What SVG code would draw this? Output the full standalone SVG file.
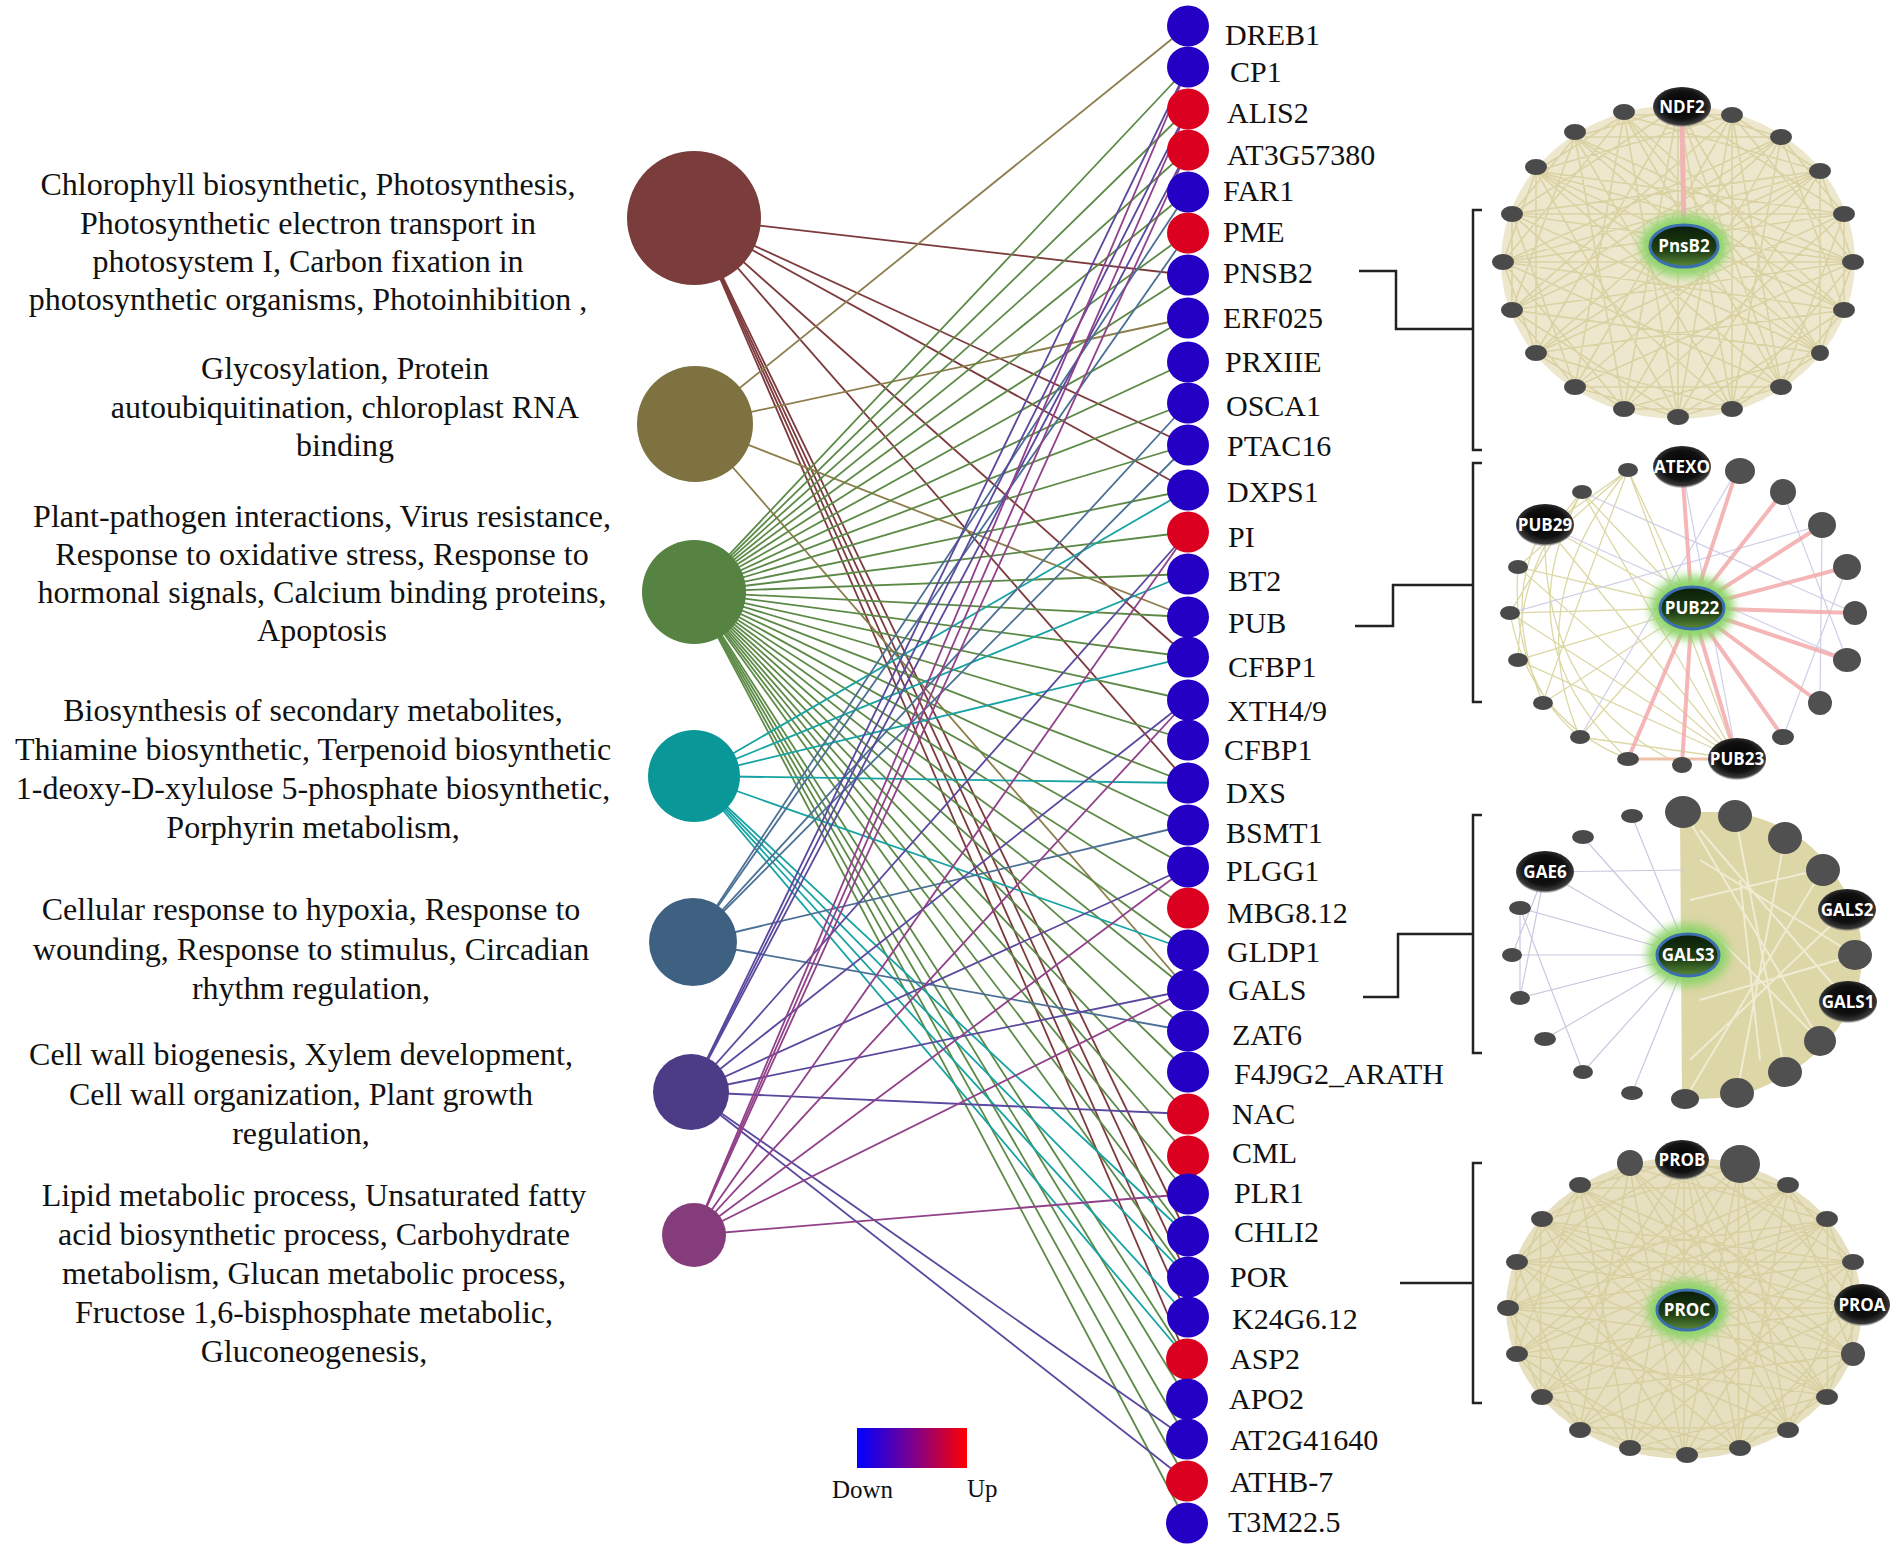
<svg xmlns="http://www.w3.org/2000/svg" xmlns:xlink="http://www.w3.org/1999/xlink" width="1902" height="1549" viewBox="0 0 1902 1549">
<defs>
<style>
.ct{font-family:"Liberation Serif","Times New Roman",serif;font-size:32px;fill:#111;text-anchor:middle}
.gl{font-family:"Liberation Serif","Times New Roman",serif;font-size:30px;fill:#111}
.lg{font-family:"Liberation Serif","Times New Roman",serif;font-size:25px;fill:#111}
.dn{fill:#2300c4}
.up{fill:#dc0020}
.e1{stroke:#7d3a3c;stroke-width:1.8}
.e2{stroke:#8c7e4c;stroke-width:1.8}
.e3{stroke:#5c8a46;stroke-width:1.8}
.e4{stroke:#17a3a3;stroke-width:1.8}
.e5{stroke:#4c7095;stroke-width:1.8}
.e6{stroke:#5a479e;stroke-width:1.8}
.e7{stroke:#91408a;stroke-width:1.8}
.br{fill:none;stroke:#222;stroke-width:2.5}
.nl{font-family:"Open Sans","DejaVu Sans",sans-serif;font-weight:700;font-size:17px;fill:#fff;text-anchor:middle}
.sn{fill:#4a4a4a}
.mn{fill:#505050}
.web{fill:none;stroke:#d6cc9a;stroke-width:1.6;stroke-opacity:0.8}
</style>
<linearGradient id="lgd" x1="0" y1="0" x2="1" y2="0">
<stop offset="0" stop-color="#0000ff"/>
<stop offset="0.5" stop-color="#7a0090"/>
<stop offset="1" stop-color="#ff0000"/>
</linearGradient>
<radialGradient id="dk" cx="0.5" cy="0.45" r="0.55">
<stop offset="0" stop-color="#000"/>
<stop offset="0.65" stop-color="#111"/>
<stop offset="0.9" stop-color="#3a3a3a"/>
<stop offset="1" stop-color="#888" stop-opacity="0.3"/>
</radialGradient>
<linearGradient id="cg" x1="0" y1="0" x2="0" y2="1">
<stop offset="0" stop-color="#0a1d07"/>
<stop offset="0.6" stop-color="#1f3f14"/>
<stop offset="1" stop-color="#5a8a3a"/>
</linearGradient>
<filter id="gl" x="-50%" y="-50%" width="200%" height="200%"><feGaussianBlur stdDeviation="5"/></filter>
<path id="web" d="M0 -155L166 -48M54 -147L175 0M103 -125L166 48M142 -91L142 91M166 -48L103 125M175 0L54 147M166 48L0 155M142 91L-54 147M103 125L-103 125M54 147L-142 91M0 155L-166 48M-54 147L-175 0M-103 125L-166 -48M-142 91L-142 -91M-166 48L-103 -125M-175 0L-54 -147M-166 -48L0 -155M-142 -91L54 -147M-103 -125L103 -125M-54 -147L142 -91M0 -155L142 91M54 -147L103 125M103 -125L54 147M142 -91L0 155M166 -48L-54 147M175 0L-103 125M166 48L-142 91M142 91L-166 48M103 125L-175 0M54 147L-166 -48M0 155L-142 -91M-54 147L-103 -125M-103 125L-54 -147M-142 91L0 -155M-166 48L54 -147M-175 0L103 -125M-166 -48L142 -91M-142 -91L166 -48M-103 -125L175 0M-54 -147L166 48M0 -155L54 147M54 -147L0 155M103 -125L-54 147M142 -91L-103 125M166 -48L-142 91M175 0L-166 48M166 48L-175 0M142 91L-166 -48M103 125L-142 -91M54 147L-103 -125M0 155L-54 -147M-54 147L0 -155M-103 125L54 -147M-142 91L103 -125M-166 48L142 -91M-175 0L166 -48M-166 -48L175 0M-142 -91L166 48M-103 -125L142 91M-54 -147L103 125M0 -155L103 -125M54 -147L142 -91M103 -125L166 -48M142 -91L175 0M166 -48L166 48M175 0L142 91M166 48L103 125M142 91L54 147M103 125L0 155M54 147L-54 147M0 155L-103 125M-54 147L-142 91M-103 125L-166 48M-142 91L-175 0M-166 48L-166 -48M-175 0L-142 -91M-166 -48L-103 -125M-142 -91L-54 -147M-103 -125L0 -155M-54 -147L54 -147M0 -155L-142 91M54 -147L-103 125M103 -125L-166 48M142 -91L-175 0M166 -48L-166 -48M175 0L-142 -91M166 48L-103 -125M142 91L-54 -147M103 125L0 -155M54 147L54 -147M0 -155L0 155M-175 0L175 0M-142 -91L142 91M-142 91L142 -91"/>
</defs>
<rect width="1902" height="1549" fill="#fff"/>

<g id="connectors">
<line class="e1" x1="694" y1="218" x2="1188" y2="275"/>
<line class="e1" x1="694" y1="218" x2="1188" y2="445"/>
<line class="e1" x1="694" y1="218" x2="1188" y2="490"/>
<line class="e1" x1="694" y1="218" x2="1188" y2="657"/>
<line class="e1" x1="694" y1="218" x2="1188" y2="783"/>
<line class="e1" x1="694" y1="218" x2="1188" y2="1236"/>
<line class="e1" x1="694" y1="218" x2="1188" y2="1277"/>
<line class="e1" x1="694" y1="218" x2="1188" y2="1317"/>
<line class="e1" x1="694" y1="218" x2="1187" y2="1359"/>
<line class="e2" x1="695" y1="424" x2="1188" y2="26"/>
<line class="e2" x1="695" y1="424" x2="1188" y2="318"/>
<line class="e2" x1="695" y1="424" x2="1188" y2="617"/>
<line class="e2" x1="695" y1="424" x2="1188" y2="990"/>
<line class="e3" x1="694" y1="592" x2="1188" y2="67"/>
<line class="e3" x1="694" y1="592" x2="1188" y2="109"/>
<line class="e3" x1="694" y1="592" x2="1188" y2="150"/>
<line class="e3" x1="694" y1="592" x2="1188" y2="192"/>
<line class="e3" x1="694" y1="592" x2="1188" y2="233"/>
<line class="e3" x1="694" y1="592" x2="1188" y2="275"/>
<line class="e3" x1="694" y1="592" x2="1188" y2="318"/>
<line class="e3" x1="694" y1="592" x2="1188" y2="362"/>
<line class="e3" x1="694" y1="592" x2="1188" y2="403"/>
<line class="e3" x1="694" y1="592" x2="1188" y2="445"/>
<line class="e3" x1="694" y1="592" x2="1188" y2="490"/>
<line class="e3" x1="694" y1="592" x2="1188" y2="532"/>
<line class="e3" x1="694" y1="592" x2="1188" y2="574"/>
<line class="e3" x1="694" y1="592" x2="1188" y2="617"/>
<line class="e3" x1="694" y1="592" x2="1188" y2="657"/>
<line class="e3" x1="694" y1="592" x2="1188" y2="700"/>
<line class="e3" x1="694" y1="592" x2="1188" y2="740"/>
<line class="e3" x1="694" y1="592" x2="1188" y2="783"/>
<line class="e3" x1="694" y1="592" x2="1188" y2="825"/>
<line class="e3" x1="694" y1="592" x2="1188" y2="867"/>
<line class="e3" x1="694" y1="592" x2="1188" y2="908"/>
<line class="e3" x1="694" y1="592" x2="1188" y2="950"/>
<line class="e3" x1="694" y1="592" x2="1188" y2="990"/>
<line class="e3" x1="694" y1="592" x2="1188" y2="1031"/>
<line class="e3" x1="694" y1="592" x2="1188" y2="1072"/>
<line class="e3" x1="694" y1="592" x2="1188" y2="1114"/>
<line class="e3" x1="694" y1="592" x2="1188" y2="1156"/>
<line class="e3" x1="694" y1="592" x2="1188" y2="1194"/>
<line class="e3" x1="694" y1="592" x2="1188" y2="1236"/>
<line class="e3" x1="694" y1="592" x2="1188" y2="1277"/>
<line class="e3" x1="694" y1="592" x2="1187" y2="1359"/>
<line class="e3" x1="694" y1="592" x2="1187" y2="1399"/>
<line class="e3" x1="694" y1="592" x2="1187" y2="1439"/>
<line class="e3" x1="694" y1="592" x2="1187" y2="1481"/>
<line class="e3" x1="694" y1="592" x2="1187" y2="1523"/>
<line class="e4" x1="694" y1="776" x2="1188" y2="490"/>
<line class="e4" x1="694" y1="776" x2="1188" y2="574"/>
<line class="e4" x1="694" y1="776" x2="1188" y2="657"/>
<line class="e4" x1="694" y1="776" x2="1188" y2="783"/>
<line class="e4" x1="694" y1="776" x2="1188" y2="950"/>
<line class="e4" x1="694" y1="776" x2="1188" y2="1236"/>
<line class="e4" x1="694" y1="776" x2="1188" y2="1277"/>
<line class="e4" x1="694" y1="776" x2="1188" y2="1317"/>
<line class="e4" x1="694" y1="776" x2="1187" y2="1359"/>
<line class="e5" x1="693" y1="942" x2="1188" y2="192"/>
<line class="e5" x1="693" y1="942" x2="1188" y2="233"/>
<line class="e5" x1="693" y1="942" x2="1188" y2="403"/>
<line class="e5" x1="693" y1="942" x2="1188" y2="445"/>
<line class="e5" x1="693" y1="942" x2="1188" y2="825"/>
<line class="e5" x1="693" y1="942" x2="1188" y2="1031"/>
<line class="e6" x1="691" y1="1092" x2="1188" y2="67"/>
<line class="e6" x1="691" y1="1092" x2="1188" y2="109"/>
<line class="e6" x1="691" y1="1092" x2="1188" y2="150"/>
<line class="e6" x1="691" y1="1092" x2="1188" y2="532"/>
<line class="e6" x1="691" y1="1092" x2="1188" y2="700"/>
<line class="e6" x1="691" y1="1092" x2="1188" y2="867"/>
<line class="e6" x1="691" y1="1092" x2="1188" y2="990"/>
<line class="e6" x1="691" y1="1092" x2="1188" y2="1114"/>
<line class="e6" x1="691" y1="1092" x2="1187" y2="1439"/>
<line class="e6" x1="691" y1="1092" x2="1187" y2="1481"/>
<line class="e7" x1="694" y1="1235" x2="1188" y2="67"/>
<line class="e7" x1="694" y1="1235" x2="1188" y2="109"/>
<line class="e7" x1="694" y1="1235" x2="1188" y2="150"/>
<line class="e7" x1="694" y1="1235" x2="1188" y2="532"/>
<line class="e7" x1="694" y1="1235" x2="1188" y2="700"/>
<line class="e7" x1="694" y1="1235" x2="1188" y2="867"/>
<line class="e7" x1="694" y1="1235" x2="1188" y2="990"/>
<line class="e7" x1="694" y1="1235" x2="1188" y2="1194"/>
</g>

<g id="categories">
<g id="cat1"><circle cx="694" cy="218" r="67" fill="#7b3c3c"/>
<text class="ct"><tspan x="308" y="195">Chlorophyll biosynthetic, Photosynthesis,</tspan><tspan x="308" y="234">Photosynthetic electron transport in</tspan><tspan x="308" y="272">photosystem I, Carbon fixation in</tspan><tspan x="308" y="310">photosynthetic organisms, Photoinhibition ,</tspan></text></g>
<g id="cat2"><circle cx="695" cy="424" r="58" fill="#7e7240"/>
<text class="ct"><tspan x="345" y="379">Glycosylation, Protein</tspan><tspan x="345" y="418">autoubiquitination, chloroplast RNA</tspan><tspan x="345" y="456">binding</tspan></text></g>
<g id="cat3"><circle cx="694" cy="592" r="52" fill="#568342"/>
<text class="ct"><tspan x="322" y="527">Plant-pathogen interactions, Virus resistance,</tspan><tspan x="322" y="565">Response to oxidative stress, Response to</tspan><tspan x="322" y="603">hormonal signals, Calcium binding proteins,</tspan><tspan x="322" y="641">Apoptosis</tspan></text></g>
<g id="cat4"><circle cx="694" cy="776" r="46" fill="#0a9797"/>
<text class="ct"><tspan x="313" y="721">Biosynthesis of secondary metabolites,</tspan><tspan x="313" y="760">Thiamine biosynthetic, Terpenoid biosynthetic</tspan><tspan x="313" y="799">1-deoxy-D-xylulose 5-phosphate biosynthetic,</tspan><tspan x="313" y="838">Porphyrin metabolism,</tspan></text></g>
<g id="cat5"><circle cx="693" cy="942" r="44" fill="#3e6182"/>
<text class="ct"><tspan x="311" y="920">Cellular response to hypoxia, Response to</tspan><tspan x="311" y="960">wounding, Response to stimulus, Circadian</tspan><tspan x="311" y="999">rhythm regulation,</tspan></text></g>
<g id="cat6"><circle cx="691" cy="1092" r="38" fill="#4c3c86"/>
<text class="ct"><tspan x="301" y="1065">Cell wall biogenesis, Xylem development,</tspan><tspan x="301" y="1105">Cell wall organization, Plant growth</tspan><tspan x="301" y="1144">regulation,</tspan></text></g>
<g id="cat7"><circle cx="694" cy="1235" r="32" fill="#853c7b"/>
<text class="ct"><tspan x="314" y="1206">Lipid metabolic process, Unsaturated fatty</tspan><tspan x="314" y="1245">acid biosynthetic process, Carbohydrate</tspan><tspan x="314" y="1284">metabolism, Glucan metabolic process,</tspan><tspan x="314" y="1323">Fructose 1,6-bisphosphate metabolic,</tspan><tspan x="314" y="1362">Gluconeogenesis,</tspan></text></g>
</g>

<g id="genes">
<g id="g0"><ellipse class="dn" cx="1188" cy="26" rx="21" ry="20.5"/><text class="gl" x="1225" y="45">DREB1</text></g>
<g id="g1"><ellipse class="dn" cx="1188" cy="67" rx="21" ry="20.5"/><text class="gl" x="1230" y="82">CP1</text></g>
<g id="g2"><ellipse class="up" cx="1188" cy="109" rx="21" ry="20.5"/><text class="gl" x="1227" y="123">ALIS2</text></g>
<g id="g3"><ellipse class="up" cx="1188" cy="150" rx="21" ry="20.5"/><text class="gl" x="1227" y="165">AT3G57380</text></g>
<g id="g4"><ellipse class="dn" cx="1188" cy="192" rx="21" ry="20.5"/><text class="gl" x="1223" y="201">FAR1</text></g>
<g id="g5"><ellipse class="up" cx="1188" cy="233" rx="21" ry="20.5"/><text class="gl" x="1223" y="242">PME</text></g>
<g id="g6"><ellipse class="dn" cx="1188" cy="275" rx="21" ry="20.5"/><text class="gl" x="1223" y="283">PNSB2</text></g>
<g id="g7"><ellipse class="dn" cx="1188" cy="318" rx="21" ry="20.5"/><text class="gl" x="1223" y="328">ERF025</text></g>
<g id="g8"><ellipse class="dn" cx="1188" cy="362" rx="21" ry="20.5"/><text class="gl" x="1225" y="372">PRXIIE</text></g>
<g id="g9"><ellipse class="dn" cx="1188" cy="403" rx="21" ry="20.5"/><text class="gl" x="1226" y="416">OSCA1</text></g>
<g id="g10"><ellipse class="dn" cx="1188" cy="445" rx="21" ry="20.5"/><text class="gl" x="1227" y="456">PTAC16</text></g>
<g id="g11"><ellipse class="dn" cx="1188" cy="490" rx="21" ry="20.5"/><text class="gl" x="1227" y="502">DXPS1</text></g>
<g id="g12"><ellipse class="up" cx="1188" cy="532" rx="21" ry="20.5"/><text class="gl" x="1228" y="547">PI</text></g>
<g id="g13"><ellipse class="dn" cx="1188" cy="574" rx="21" ry="20.5"/><text class="gl" x="1228" y="591">BT2</text></g>
<g id="g14"><ellipse class="dn" cx="1188" cy="617" rx="21" ry="20.5"/><text class="gl" x="1228" y="633">PUB</text></g>
<g id="g15"><ellipse class="dn" cx="1188" cy="657" rx="21" ry="20.5"/><text class="gl" x="1228" y="677">CFBP1</text></g>
<g id="g16"><ellipse class="dn" cx="1188" cy="700" rx="21" ry="20.5"/><text class="gl" x="1227" y="721">XTH4/9</text></g>
<g id="g17"><ellipse class="dn" cx="1188" cy="740" rx="21" ry="20.5"/><text class="gl" x="1224" y="760">CFBP1</text></g>
<g id="g18"><ellipse class="dn" cx="1188" cy="783" rx="21" ry="20.5"/><text class="gl" x="1226" y="803">DXS</text></g>
<g id="g19"><ellipse class="dn" cx="1188" cy="825" rx="21" ry="20.5"/><text class="gl" x="1226" y="843">BSMT1</text></g>
<g id="g20"><ellipse class="dn" cx="1188" cy="867" rx="21" ry="20.5"/><text class="gl" x="1226" y="881">PLGG1</text></g>
<g id="g21"><ellipse class="up" cx="1188" cy="908" rx="21" ry="20.5"/><text class="gl" x="1227" y="923">MBG8.12</text></g>
<g id="g22"><ellipse class="dn" cx="1188" cy="950" rx="21" ry="20.5"/><text class="gl" x="1227" y="962">GLDP1</text></g>
<g id="g23"><ellipse class="dn" cx="1188" cy="990" rx="21" ry="20.5"/><text class="gl" x="1228" y="1000">GALS</text></g>
<g id="g24"><ellipse class="dn" cx="1188" cy="1031" rx="21" ry="20.5"/><text class="gl" x="1232" y="1045">ZAT6</text></g>
<g id="g25"><ellipse class="dn" cx="1188" cy="1072" rx="21" ry="20.5"/><text class="gl" x="1234" y="1084">F4J9G2_ARATH</text></g>
<g id="g26"><ellipse class="up" cx="1188" cy="1114" rx="21" ry="20.5"/><text class="gl" x="1232" y="1124">NAC</text></g>
<g id="g27"><ellipse class="up" cx="1188" cy="1156" rx="21" ry="20.5"/><text class="gl" x="1232" y="1163">CML</text></g>
<g id="g28"><ellipse class="dn" cx="1188" cy="1194" rx="21" ry="20.5"/><text class="gl" x="1234" y="1203">PLR1</text></g>
<g id="g29"><ellipse class="dn" cx="1188" cy="1236" rx="21" ry="20.5"/><text class="gl" x="1234" y="1242">CHLI2</text></g>
<g id="g30"><ellipse class="dn" cx="1188" cy="1277" rx="21" ry="20.5"/><text class="gl" x="1230" y="1287">POR</text></g>
<g id="g31"><ellipse class="dn" cx="1188" cy="1317" rx="21" ry="20.5"/><text class="gl" x="1232" y="1329">K24G6.12</text></g>
<g id="g32"><ellipse class="up" cx="1187" cy="1359" rx="21" ry="20.5"/><text class="gl" x="1230" y="1369">ASP2</text></g>
<g id="g33"><ellipse class="dn" cx="1187" cy="1399" rx="21" ry="20.5"/><text class="gl" x="1229" y="1409">APO2</text></g>
<g id="g34"><ellipse class="dn" cx="1187" cy="1439" rx="21" ry="20.5"/><text class="gl" x="1230" y="1450">AT2G41640</text></g>
<g id="g35"><ellipse class="up" cx="1187" cy="1481" rx="21" ry="20.5"/><text class="gl" x="1230" y="1492">ATHB-7</text></g>
<g id="g36"><ellipse class="dn" cx="1187" cy="1523" rx="21" ry="20.5"/><text class="gl" x="1228" y="1532">T3M22.5</text></g>
</g>

<g id="legend">
<rect x="857" y="1428" width="110" height="40" fill="url(#lgd)"/>
<text class="lg" x="832" y="1498">Down</text>
<text class="lg" x="967" y="1497">Up</text>
</g>

<g id="brackets">
<path class="br" d="M1482 210H1473V450H1482M1359 271H1396V329H1473"/>
<path class="br" d="M1482 463H1473V702H1482M1355 626H1393V585H1473"/>
<path class="br" d="M1482 815H1473V1053H1482M1363 997H1398V934H1473"/>
<path class="br" d="M1482 1163H1473V1403H1482M1400 1283H1473"/>
</g>

<g id="net1">
<ellipse cx="1678" cy="262" rx="177" ry="157" fill="#ede8cd"/>
<use href="#web" class="web" transform="translate(1678 262)"/>
<line x1="1682" y1="125" x2="1684" y2="228" stroke="#f0b4b4" stroke-width="5"/>
<g class="sn">
<ellipse cx="1732" cy="115" rx="11" ry="8"/><ellipse cx="1781" cy="137" rx="11" ry="8"/><ellipse cx="1820" cy="171" rx="11" ry="8"/><ellipse cx="1844" cy="214" rx="11" ry="8"/><ellipse cx="1853" cy="262" rx="11" ry="8"/><ellipse cx="1844" cy="310" rx="11" ry="8"/><ellipse cx="1820" cy="353" rx="9" ry="8"/><ellipse cx="1781" cy="387" rx="11" ry="8"/><ellipse cx="1732" cy="409" rx="11" ry="8"/><ellipse cx="1678" cy="417" rx="11" ry="8"/><ellipse cx="1624" cy="409" rx="11" ry="8"/><ellipse cx="1575" cy="387" rx="11" ry="8"/><ellipse cx="1536" cy="353" rx="11" ry="8"/><ellipse cx="1512" cy="310" rx="11" ry="8"/><ellipse cx="1503" cy="262" rx="11" ry="8"/><ellipse cx="1512" cy="214" rx="11" ry="8"/><ellipse cx="1536" cy="167" rx="11" ry="8"/><ellipse cx="1575" cy="132" rx="11" ry="8"/><ellipse cx="1624" cy="112" rx="11" ry="8"/>
</g>
<g id="ndf2"><ellipse cx="1682" cy="107" rx="29" ry="20" fill="url(#dk)"/><text class="nl" x="1682" y="113">NDF2</text></g>
<g id="pnsb2"><ellipse cx="1684" cy="246" rx="44" ry="31" fill="#8ed46a" filter="url(#gl)"/><ellipse cx="1684" cy="246" rx="34" ry="21" fill="url(#cg)" stroke="#3b6fae" stroke-width="3"/><text class="nl" x="1684" y="252" font-size="18">PnsB2</text></g>
</g>

<g id="net2">
<g fill="none" stroke="#dcd8a6" stroke-width="1.3">
<path d="M1628 470Q1560 520 1545 525M1582 492Q1520 560 1518 660M1545 525Q1500 600 1543 703M1518 567Q1510 680 1580 737M1510 613Q1530 720 1628 759M1628 470Q1520 600 1580 737M1582 492Q1500 640 1628 759M1545 525Q1540 700 1682 765M1628 470Q1560 650 1543 703M1582 492L1510 613M1628 470L1518 567"/>
<path d="M1628 470L1692 608M1582 492L1692 608M1545 525L1692 608M1518 567L1692 608M1510 613L1692 608M1518 660L1692 608M1543 703L1692 608M1580 737L1692 608M1628 470L1737 759M1582 492L1737 759M1545 525L1737 759M1518 567L1737 759M1510 613L1737 759M1518 660L1737 759M1580 737L1737 759"/>
</g>
<g fill="none" stroke="#cfcfe8" stroke-width="1.2">
<path d="M1682 467L1737 759M1847 567L1783 737M1822 525L1820 703M1783 492L1847 660M1582 492L1855 613M1510 613L1822 525M1545 525L1847 660M1737 470L1580 737"/>
</g>
<g fill="none" stroke="#f2a9a9" stroke-width="4" stroke-opacity="0.85">
<path d="M1692 608L1682 467M1692 608L1737 470M1692 608L1783 492M1692 608L1822 525M1692 608L1847 567M1692 608L1855 613M1692 608L1847 660M1692 608L1820 703M1692 608L1783 737M1692 608L1737 759M1692 608L1682 765M1692 608L1628 759"/>
</g>
<path d="M1628 759L1737 759" stroke="#eec2a8" stroke-width="3"/>
<g class="sn">
<ellipse cx="1628" cy="470" rx="10" ry="7"/><ellipse cx="1582" cy="492" rx="10" ry="7"/><ellipse cx="1518" cy="567" rx="10" ry="7"/><ellipse cx="1510" cy="613" rx="10" ry="7"/><ellipse cx="1518" cy="660" rx="10" ry="7"/><ellipse cx="1543" cy="703" rx="10" ry="7"/><ellipse cx="1580" cy="737" rx="10" ry="7"/><ellipse cx="1628" cy="759" rx="11" ry="7"/><ellipse cx="1682" cy="765" rx="10" ry="8"/><ellipse cx="1783" cy="737" rx="11" ry="8"/>
</g>
<g class="mn">
<ellipse cx="1740" cy="471" rx="15" ry="13"/><ellipse cx="1783" cy="492" rx="13" ry="13"/><ellipse cx="1822" cy="525" rx="14" ry="13"/><ellipse cx="1847" cy="567" rx="14" ry="13"/><ellipse cx="1855" cy="613" rx="12" ry="12"/><ellipse cx="1847" cy="660" rx="14" ry="12"/><ellipse cx="1820" cy="703" rx="12" ry="12"/>
</g>
<g id="atexo"><ellipse cx="1682" cy="467" rx="29" ry="21" fill="url(#dk)"/><text class="nl" x="1682" y="473">ATEXO</text></g>
<g id="pub29"><ellipse cx="1545" cy="525" rx="29" ry="21" fill="url(#dk)"/><text class="nl" x="1545" y="531">PUB29</text></g>
<g id="pub23"><ellipse cx="1737" cy="759" rx="29" ry="21" fill="url(#dk)"/><text class="nl" x="1737" y="765">PUB23</text></g>
<g id="pub22"><ellipse cx="1692" cy="608" rx="42" ry="32" fill="#8ed46a" filter="url(#gl)"/><ellipse cx="1692" cy="608" rx="32" ry="21" fill="url(#cg)" stroke="#3b6fae" stroke-width="3"/><text class="nl" x="1692" y="614">PUB22</text></g>
</g>

<g id="net3">
<path d="M1680 812L1735 812Q1800 825 1830 868Q1862 910 1862 955Q1862 1002 1828 1041Q1795 1078 1737 1097L1682 1100Z" fill="#ddd6a6"/>
<g fill="none" stroke="#f4f1de" stroke-width="2" stroke-opacity="0.8">
<path d="M1683 810L1820 1041M1735 815L1785 1072M1785 837L1737 1093M1823 869L1685 1099M1847 910L1690 1060M1855 955L1700 860M1848 1002L1700 830M1820 1041L1683 810M1785 1072L1735 815M1737 1093L1785 837M1690 900L1823 869M1700 1000L1855 955M1710 930L1820 1041M1740 880L1760 1060"/>
</g>
<g fill="none" stroke="#cec6df" stroke-width="1.2">
<path d="M1688 955L1632 816M1688 955L1583 837M1688 955L1545 872M1688 955L1520 908M1688 955L1512 955M1688 955L1520 998M1688 955L1545 1039M1688 955L1583 1072M1688 955L1632 1093M1545 872L1683 870M1520 908L1520 998M1520 908L1583 1072M1512 955L1545 872M1520 998L1545 872"/>
</g>
<g class="sn">
<ellipse cx="1632" cy="816" rx="11" ry="7"/><ellipse cx="1583" cy="837" rx="11" ry="7"/><ellipse cx="1520" cy="908" rx="11" ry="7"/><ellipse cx="1512" cy="955" rx="10" ry="7"/><ellipse cx="1520" cy="998" rx="10" ry="7"/><ellipse cx="1545" cy="1039" rx="11" ry="7"/><ellipse cx="1583" cy="1072" rx="10" ry="7"/><ellipse cx="1632" cy="1093" rx="11" ry="7"/><ellipse cx="1685" cy="1099" rx="14" ry="10"/>
</g>
<g class="mn">
<ellipse cx="1683" cy="812" rx="18" ry="16"/><ellipse cx="1735" cy="816" rx="17" ry="16"/><ellipse cx="1785" cy="838" rx="17" ry="16"/><ellipse cx="1823" cy="870" rx="17" ry="16"/><ellipse cx="1855" cy="955" rx="17" ry="15"/><ellipse cx="1820" cy="1041" rx="16" ry="15"/><ellipse cx="1785" cy="1072" rx="17" ry="15"/><ellipse cx="1737" cy="1093" rx="17" ry="15"/>
</g>
<g id="gae6"><ellipse cx="1545" cy="872" rx="29" ry="21" fill="url(#dk)"/><text class="nl" x="1545" y="878">GAE6</text></g>
<g id="gals2"><ellipse cx="1847" cy="910" rx="29" ry="21" fill="url(#dk)"/><text class="nl" x="1847" y="916">GALS2</text></g>
<g id="gals1"><ellipse cx="1848" cy="1002" rx="29" ry="21" fill="url(#dk)"/><text class="nl" x="1848" y="1008">GALS1</text></g>
<g id="gals3"><ellipse cx="1688" cy="955" rx="41" ry="31" fill="#8ed46a" filter="url(#gl)"/><ellipse cx="1688" cy="955" rx="31" ry="21" fill="url(#cg)" stroke="#3b6fae" stroke-width="3"/><text class="nl" x="1688" y="961" font-size="18">GALS3</text></g>
</g>

<g id="net4">
<ellipse cx="1684" cy="1308" rx="178" ry="151" fill="#e6e0c0"/>
<use href="#web" class="web" transform="translate(1684 1308) scale(1.01 0.96)"/>
<g class="sn">
<ellipse cx="1788" cy="1185" rx="11" ry="8"/><ellipse cx="1827" cy="1219" rx="11" ry="8"/><ellipse cx="1853" cy="1262" rx="11" ry="8"/><ellipse cx="1827" cy="1397" rx="11" ry="8"/><ellipse cx="1788" cy="1430" rx="11" ry="8"/><ellipse cx="1740" cy="1448" rx="11" ry="8"/><ellipse cx="1687" cy="1455" rx="11" ry="8"/><ellipse cx="1630" cy="1448" rx="11" ry="8"/><ellipse cx="1580" cy="1430" rx="11" ry="8"/><ellipse cx="1542" cy="1397" rx="11" ry="8"/><ellipse cx="1517" cy="1354" rx="11" ry="8"/><ellipse cx="1508" cy="1308" rx="11" ry="8"/><ellipse cx="1517" cy="1262" rx="11" ry="8"/><ellipse cx="1542" cy="1219" rx="11" ry="8"/><ellipse cx="1580" cy="1185" rx="11" ry="8"/>
</g>
<g class="mn">
<ellipse cx="1630" cy="1163" rx="13" ry="13"/><ellipse cx="1740" cy="1164" rx="20" ry="19"/><ellipse cx="1853" cy="1354" rx="12" ry="12"/>
</g>
<g id="prob"><ellipse cx="1682" cy="1160" rx="27" ry="20" fill="url(#dk)"/><text class="nl" x="1682" y="1166">PROB</text></g>
<g id="proa"><ellipse cx="1862" cy="1305" rx="28" ry="21" fill="url(#dk)"/><text class="nl" x="1862" y="1311">PROA</text></g>
<g id="proc"><ellipse cx="1687" cy="1310" rx="40" ry="30" fill="#8ed46a" filter="url(#gl)"/><ellipse cx="1687" cy="1310" rx="30" ry="20" fill="url(#cg)" stroke="#3b6fae" stroke-width="3"/><text class="nl" x="1687" y="1316" font-size="18">PROC</text></g>
</g>
</svg>
